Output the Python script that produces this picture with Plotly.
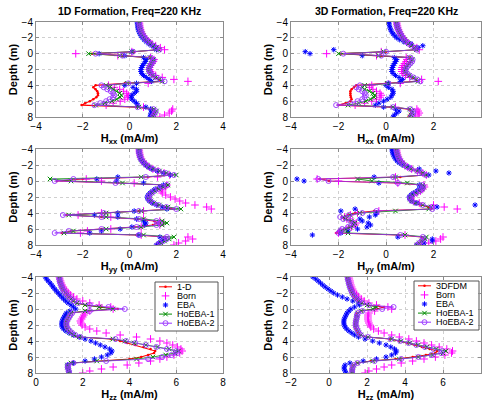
import plotly.graph_objects as go

# ---------------- data ----------------
depth = [-4.0, -3.75, -3.5, -3.25, -3.0, -2.75, -2.5, -2.25, -2.0, -1.75,
         -1.5, -1.25, -1.0, -0.75, -0.5, -0.25, 0.0, 0.25, 0.5, 0.75,
         1.0, 1.25, 1.5, 1.75, 2.0, 2.25, 2.5, 2.75, 3.0, 3.25,
         3.5, 3.75, 4.0, 4.25, 4.5, 4.75, 5.0, 5.25, 5.5, 5.75,
         6.0, 6.25, 6.5, 6.75, 7.0, 7.25, 7.5, 7.75, 8.0]

names_1d = ["1-D", "Born", "EBA", "HoEBA-1", "HoEBA-2"]
names_3d = ["3DFDM", "Born", "EBA", "HoEBA-1", "HoEBA-2"]

# Hxx, 1D formation
hxx1d_ref = [0.38, 0.39, 0.40, 0.42, 0.44, 0.47, 0.51, 0.56, 0.62, 0.69,
             0.78, 0.88, 1.00, 1.12, 1.20, 0.20, -1.60, -0.30, 0.85, 1.00,
             0.98, 0.92, 0.86, 0.82, 0.80, 0.82, 0.88, 0.98, 1.10, 1.25,
             1.35, -0.20, -1.45, -1.55, -1.45, -1.38, -1.35, -1.35, -1.42, -1.55,
             -1.70, -1.90, -2.05, 0.30, 0.95, 1.05, 1.00, 0.95, 0.92]
hxx1d_born = [0.42, 0.43, 0.44, 0.46, 0.48, 0.51, 0.55, 0.60, 0.66, 0.74,
              0.84, 0.96, 1.12, 1.32, 1.50, 0.10, -2.30, -0.50, 0.90, 1.05,
              1.02, 0.96, 0.90, 0.86, 0.86, 0.90, 0.98, 1.12, 1.40, 1.90,
              2.50, 0.80, -0.90, -0.65, -0.42, -0.25, -0.12, -0.05, -0.08, -0.20,
              -0.40, -0.70, -1.00, 0.60, 1.85, 1.80, 1.70, 1.50, 1.30]
hxx1d_eba = [0.33, 0.34, 0.35, 0.36, 0.38, 0.41, 0.45, 0.50, 0.56, 0.63,
             0.72, 0.82, 0.95, 1.08, 1.15, 0.10, -1.30, -0.20, 0.60, 0.72,
             0.68, 0.62, 0.56, 0.52, 0.49, 0.49, 0.52, 0.60, 0.72, 0.85,
             0.95, 0.30, -0.20, 0.15, 0.30, 0.30, 0.20, 0.10, 0.08, 0.10,
             0.20, 0.30, 0.35, 0.70, 0.90, 0.95, 0.92, 0.90, 0.88]
hxx1d_ho1 = [0.40, 0.41, 0.42, 0.44, 0.46, 0.49, 0.53, 0.58, 0.64, 0.71,
             0.80, 0.90, 1.02, 1.15, 1.25, 0.10, -1.75, -0.40, 0.88, 1.02,
             1.00, 0.94, 0.88, 0.84, 0.82, 0.84, 0.90, 1.00, 1.12, 1.28,
             1.40, -0.10, -1.00, -0.85, -0.70, -0.55, -0.42, -0.35, -0.40, -0.55,
             -0.75, -1.05, -1.45, 0.40, 1.05, 1.15, 1.10, 1.05, 1.00]
hxx1d_ho2 = [0.41, 0.42, 0.43, 0.45, 0.47, 0.50, 0.54, 0.59, 0.65, 0.72,
             0.81, 0.91, 1.03, 1.16, 1.28, 0.15, -1.45, -0.30, 0.90, 1.03,
             1.01, 0.95, 0.89, 0.85, 0.83, 0.85, 0.91, 1.01, 1.14, 1.32,
             1.50, -0.05, -1.20, -1.10, -0.95, -0.80, -0.70, -0.65, -0.70, -0.85,
             -1.00, -1.25, -1.50, 0.35, 1.02, 1.12, 1.08, 1.02, 0.98]

# Hxx, 3D formation
hxx3d_ref = [0.42, 0.43, 0.45, 0.47, 0.50, 0.54, 0.58, 0.63, 0.68, 0.75,
             0.82, 0.92, 1.05, 1.18, 1.25, 0.00, -1.90, -0.20, 1.00, 1.08,
             1.05, 0.98, 0.90, 0.82, 0.78, 0.78, 0.85, 0.95, 1.10, 1.25,
             1.30, 0.00, -1.25, -1.35, -1.45, -1.50, -1.50, -1.50, -1.48, -1.45,
             -1.50, -1.70, -2.00, 0.20, 0.95, 1.05, 1.05, 1.00, 0.95]
hxx3d_born = [0.45, 0.46, 0.48, 0.50, 0.53, 0.57, 0.61, 0.66, 0.72, 0.79,
              0.87, 0.98, 1.12, 1.30, 1.40, -0.20, -2.50, -0.40, 0.85, 0.88,
              0.85, 0.78, 0.72, 0.68, 0.66, 0.67, 0.72, 0.82, 1.00, 1.50,
              2.20, 0.60, -0.60, -0.70, -0.55, -0.40, -0.25, -0.20, -0.25, -0.40,
              -0.60, -0.90, -1.30, 0.40, 1.30, 1.35, 1.40, 1.35, 1.25]
hxx3d_eba = [0.12, 0.13, 0.15, 0.17, 0.20, 0.24, 0.30, 0.37, 0.45, 0.58,
             0.75, 1.05, 1.55, 1.35, -2.20, -3.40, -3.20, -1.00, 0.35, 0.45,
             0.40, 0.35, 0.30, 0.27, 0.25, 0.25, 0.30, 0.40, 0.55, 0.70,
             0.60, 0.10, 0.00, 0.10, 0.25, 0.30, 0.30, 0.25, 0.20, 0.05,
             -0.10, -0.30, -0.45, -0.10, 0.40, 0.55, 0.45, 0.35, 0.30]
hxx3d_ho1 = [0.43, 0.44, 0.46, 0.48, 0.51, 0.55, 0.59, 0.64, 0.70, 0.76,
             0.84, 0.94, 1.07, 1.20, 1.28, -0.10, -2.00, -0.30, 1.00, 1.10,
             1.07, 1.00, 0.92, 0.85, 0.80, 0.80, 0.87, 0.98, 1.13, 1.28,
             1.35, 0.05, -0.90, -1.00, -0.90, -0.70, -0.55, -0.48, -0.50, -0.65,
             -0.85, -1.15, -1.60, 0.30, 1.00, 1.10, 1.10, 1.05, 1.00]
hxx3d_ho2 = [0.44, 0.45, 0.47, 0.49, 0.52, 0.56, 0.60, 0.65, 0.71, 0.77,
             0.85, 0.95, 1.08, 1.22, 1.30, 0.00, -1.80, -0.20, 1.02, 1.12,
             1.10, 1.02, 0.94, 0.87, 0.82, 0.82, 0.89, 1.00, 1.15, 1.32,
             1.45, 0.10, -1.10, -1.25, -1.15, -1.00, -0.90, -0.85, -0.90, -1.00,
             -1.20, -1.50, -2.10, 0.30, 1.02, 1.15, 1.15, 1.10, 1.05]

# Hyy, 1D formation
hyy1d_ref = [0.40, 0.40, 0.42, 0.43, 0.45, 0.48, 0.54, 0.61, 0.70, 0.82,
             0.98, 1.22, 1.50, 1.80, 0.80, -2.00, -3.10, -0.50, 1.55, 1.40,
             1.20, 1.05, 0.95, 0.85, 0.80, 0.82, 0.88, 1.00, 1.20, 1.50,
             1.90, 0.40, -1.00, -2.70, -1.20, 0.30, 1.05, 1.20, 1.00, 0.20,
             -1.20, -2.50, -2.90, 0.30, 1.50, 1.55, 1.40, 1.25, 1.15]
hyy1d_born = [0.41, 0.42, 0.43, 0.45, 0.47, 0.51, 0.57, 0.64, 0.73, 0.85,
              1.00, 1.22, 1.48, 1.72, 1.20, -1.85, -1.20, 0.20, 1.60, 1.55,
              1.40, 1.35, 1.40, 1.55, 1.75, 1.95, 2.15, 2.40, 2.80, 3.30,
              3.50, 0.60, -1.20, -2.20, -0.80, 0.60, 1.30, 1.45, 1.30, 0.50,
              -0.80, -1.80, -2.10, 0.50, 2.50, 2.70, 2.40, 2.10, 1.90]
hyy1d_eba = [0.40, 0.40, 0.41, 0.43, 0.45, 0.48, 0.53, 0.60, 0.69, 0.80,
             0.95, 1.18, 1.45, 1.75, -0.50, -1.40, -0.55, 0.60, 1.45, 1.30,
             1.10, 0.98, 0.88, 0.80, 0.76, 0.78, 0.85, 0.97, 1.15, 1.40,
             1.60, 0.20, -0.50, -1.50, -0.50, 0.30, 0.60, 0.70, 0.65, 0.10,
             -0.40, -1.20, -1.70, 0.40, 1.30, 1.50, 1.40, 1.25, 1.15]
hyy1d_ho1 = [0.41, 0.41, 0.43, 0.44, 0.46, 0.49, 0.55, 0.62, 0.72, 0.85,
             1.02, 1.28, 1.58, 2.00, 0.50, -3.40, -2.50, -0.30, 1.65, 1.45,
             1.25, 1.08, 0.97, 0.88, 0.83, 0.85, 0.92, 1.05, 1.28, 1.65,
             2.20, 0.50, -1.00, -2.60, -1.00, 0.60, 1.40, 1.60, 1.40, 0.50,
             -1.00, -2.40, -2.80, 0.60, 1.90, 1.70, 1.50, 1.35, 1.25]
hyy1d_ho2 = [0.41, 0.41, 0.42, 0.44, 0.46, 0.49, 0.55, 0.62, 0.71, 0.83,
             1.00, 1.25, 1.55, 1.90, 0.70, -2.40, -3.20, -0.60, 1.60, 1.42,
             1.22, 1.06, 0.95, 0.86, 0.81, 0.83, 0.90, 1.02, 1.24, 1.58,
             2.00, 0.40, -1.10, -2.85, -1.20, 0.40, 1.15, 1.30, 1.15, 0.30,
             -1.20, -2.60, -3.20, 0.40, 1.60, 1.60, 1.45, 1.30, 1.20]

# Hyy, 3D formation
hyy3d_ref = [0.42, 0.43, 0.45, 0.47, 0.50, 0.54, 0.60, 0.67, 0.75, 0.88,
             1.05, 1.30, 1.50, 1.65, 0.60, -2.80, -2.40, 0.40, 1.50, 1.55,
             1.50, 1.40, 1.25, 1.10, 1.00, 1.00, 1.05, 1.20, 1.45, 1.80,
             1.90, -0.50, -1.30, -1.60, -1.85, -1.75, -1.50, -1.35, -1.40, -1.55,
             -1.75, -2.00, -2.10, 0.50, 1.50, 1.60, 1.50, 1.40, 1.30]
hyy3d_born = [0.44, 0.45, 0.47, 0.49, 0.52, 0.56, 0.62, 0.69, 0.78, 0.91,
              1.08, 1.33, 1.55, 1.70, 0.40, -2.90, -2.00, 0.50, 1.60, 1.62,
              1.55, 1.45, 1.30, 1.15, 1.05, 1.05, 1.15, 1.40, 2.00, 2.45,
              3.00, -0.30, -1.20, -1.50, -1.75, -1.65, -1.40, -1.25, -1.30, -1.45,
              -1.65, -1.90, -2.00, 0.80, 2.40, 2.30, 2.10, 1.80, 1.50]
hyy3d_eba = [0.25, 0.26, 0.28, 0.31, 0.35, 0.40, 0.47, 0.56, 0.70, 0.95,
             1.40, 2.10, 2.65, 1.80, -0.50, -3.75, -3.45, -0.30, 1.40, 1.50,
             1.40, 1.30, 1.15, 1.05, 0.98, 1.00, 1.10, 1.30, 3.75, 2.15,
             -1.30, -1.90, -0.40, -0.45, -0.70, -1.10, -1.00, -0.75, -0.65, -0.80,
             -1.20, -1.60, -1.90, -3.10, 0.50, 1.95, 1.95, 1.60, 1.30]
hyy3d_ho1 = [0.43, 0.44, 0.46, 0.48, 0.51, 0.55, 0.61, 0.68, 0.76, 0.89,
             1.06, 1.32, 1.55, 1.70, 0.40, -1.20, -0.60, 0.90, 1.55, 1.58,
             1.52, 1.42, 1.27, 1.12, 1.02, 1.02, 1.08, 1.25, 1.55, 1.90,
             1.80, 0.40, -1.10, -1.50, -1.80, -1.70, -1.45, -1.30, -1.35, -1.50,
             -1.70, -1.90, -1.60, 0.80, 1.70, 1.65, 1.50, 1.40, 1.30]
hyy3d_ho2 = [0.43, 0.44, 0.46, 0.48, 0.51, 0.55, 0.61, 0.68, 0.76, 0.89,
             1.06, 1.31, 1.52, 1.68, 0.30, -2.85, -2.42, 0.50, 1.52, 1.56,
             1.52, 1.42, 1.27, 1.12, 1.02, 1.02, 1.08, 1.25, 1.55, 1.95,
             1.95, -0.40, -1.00, -1.55, -1.93, -1.80, -1.50, -1.37, -1.42, -1.60,
             -1.85, -1.93, -2.00, 0.60, 1.55, 1.60, 1.50, 1.40, 1.30]

# Hzz, 1D formation
hzz1d_ref = [1.00, 1.00, 1.02, 1.04, 1.07, 1.10, 1.14, 1.19, 1.25, 1.32,
             1.40, 1.50, 1.60, 1.75, 2.10, 2.80, 3.50, 2.20, 1.50, 1.45,
             1.40, 1.35, 1.30, 1.28, 1.28, 1.30, 1.35, 1.42, 1.50, 1.60,
             1.80, 3.20, 3.60, 3.90, 4.25, 4.60, 4.90, 5.10, 5.05, 4.80,
             4.50, 4.00, 2.50, 1.50, 1.35, 1.35, 1.38, 1.40, 1.42]
hzz1d_born = [1.00, 1.02, 1.05, 1.08, 1.12, 1.17, 1.22, 1.29, 1.38, 1.48,
              1.60, 1.75, 2.00, 2.30, 2.70, 3.20, 3.30, 2.30, 2.10, 2.05,
              2.00, 1.95, 1.90, 1.92, 1.97, 2.10, 2.30, 2.60, 3.00, 3.60,
              4.30, 4.90, 5.30, 5.60, 5.85, 6.05, 6.20, 6.25, 6.15, 5.90,
              5.60, 5.30, 4.90, 4.40, 3.90, 3.30, 2.80, 2.30, 2.00]
hzz1d_eba = [0.40, 0.45, 0.52, 0.60, 0.67, 0.73, 0.80, 0.87, 0.95, 1.02,
             1.10, 1.18, 1.27, 1.37, 1.50, 1.60, 1.70, 1.45, 1.30, 1.25,
             1.20, 1.15, 1.12, 1.10, 1.10, 1.12, 1.18, 1.28, 1.42, 1.60,
             1.85, 2.10, 2.35, 2.55, 2.75, 2.95, 3.15, 3.25, 3.20, 3.05,
             2.80, 2.50, 2.10, 1.60, 1.35, 1.35, 1.38, 1.40, 1.42]
hzz1d_ho1 = [1.00, 1.00, 1.02, 1.04, 1.07, 1.10, 1.14, 1.19, 1.25, 1.32,
             1.40, 1.50, 1.60, 1.75, 2.10, 2.70, 3.30, 2.10, 1.50, 1.45,
             1.40, 1.35, 1.30, 1.28, 1.28, 1.30, 1.35, 1.42, 1.50, 1.62,
             1.85, 3.30, 3.80, 4.20, 4.70, 5.20, 5.70, 6.10, 5.95, 5.55,
             5.00, 4.30, 2.60, 1.50, 1.35, 1.35, 1.38, 1.40, 1.42]
hzz1d_ho2 = [1.00, 1.00, 1.02, 1.04, 1.07, 1.10, 1.14, 1.19, 1.25, 1.32,
             1.40, 1.50, 1.62, 1.80, 2.30, 3.10, 3.80, 2.30, 1.55, 1.47,
             1.42, 1.37, 1.32, 1.30, 1.30, 1.32, 1.37, 1.45, 1.55, 1.68,
             1.90, 3.40, 3.85, 4.25, 4.70, 5.15, 5.60, 6.00, 6.05, 5.80,
             5.40, 4.80, 3.00, 1.60, 1.38, 1.36, 1.38, 1.40, 1.42]

# Hzz, 3D formation
hzz3d_ref = [0.95, 0.97, 1.00, 1.02, 1.05, 1.08, 1.12, 1.16, 1.20, 1.27,
             1.35, 1.45, 1.55, 1.70, 2.00, 2.90, 2.50, 1.70, 1.50, 1.45,
             1.45, 1.42, 1.40, 1.38, 1.38, 1.40, 1.45, 1.50, 1.55, 1.65,
             2.00, 3.20, 3.70, 4.10, 4.50, 4.90, 5.30, 5.70, 5.60, 5.10,
             4.40, 3.50, 2.20, 1.50, 1.30, 1.25, 1.20, 1.20, 1.20]
hzz3d_born = [1.05, 1.07, 1.10, 1.12, 1.15, 1.19, 1.24, 1.29, 1.35, 1.45,
              1.55, 1.70, 1.85, 2.10, 2.50, 3.10, 3.30, 2.40, 2.10, 2.05,
              2.05, 2.05, 2.07, 2.10, 2.15, 2.20, 2.35, 2.60, 2.90, 3.30,
              3.70, 4.20, 4.60, 5.00, 5.40, 5.80, 6.20, 6.50, 6.45, 6.10,
              5.60, 5.00, 4.40, 3.80, 3.30, 2.90, 2.50, 2.10, 1.90]
hzz3d_eba = [-0.85, -0.70, -0.57, -0.45, -0.33, -0.20, -0.05, 0.10, 0.25, 0.45,
             0.70, 0.95, 1.25, 1.55, 1.60, 1.35, 1.15, 1.05, 0.95, 0.90,
             0.85, 0.80, 0.78, 0.78, 0.80, 0.85, 0.93, 1.05, 1.20, 1.35,
             1.55, 1.90, 2.30, 2.65, 3.00, 3.25, 3.45, 3.55, 3.50, 3.30,
             3.00, 2.50, 1.80, 1.10, 0.85, 0.80, 0.80, 0.85, 0.90]
hzz3d_ho1 = [0.97, 0.99, 1.02, 1.04, 1.07, 1.10, 1.14, 1.18, 1.22, 1.29,
             1.37, 1.47, 1.57, 1.72, 2.00, 2.50, 2.30, 1.70, 1.52, 1.47,
             1.47, 1.44, 1.42, 1.40, 1.40, 1.42, 1.47, 1.52, 1.57, 1.68,
             2.05, 3.30, 3.80, 4.25, 4.70, 5.15, 5.65, 6.15, 6.00, 5.45,
             4.70, 3.70, 2.30, 1.50, 1.30, 1.25, 1.22, 1.22, 1.22]
hzz3d_ho2 = [0.97, 0.99, 1.02, 1.04, 1.07, 1.10, 1.14, 1.18, 1.22, 1.29,
             1.37, 1.47, 1.58, 1.75, 2.10, 3.40, 2.80, 1.75, 1.52, 1.47,
             1.47, 1.44, 1.42, 1.40, 1.40, 1.42, 1.47, 1.52, 1.57, 1.68,
             2.05, 3.25, 3.75, 4.20, 4.60, 5.05, 5.50, 5.95, 5.90, 5.40,
             4.70, 3.80, 2.40, 1.50, 1.30, 1.25, 1.22, 1.22, 1.22]

x_ticks_pm4 = [-4, -2, 0, 2, 4]
x_ticks_hzz1d = [0, 2, 4, 6, 8]
x_ticks_hzz3d = [-2, 0, 2, 4, 6, 8]
depth_ticks = [-4, -2, 0, 2, 4, 6, 8]

# ---------------- styling / layout ----------------
W, H = 484, 411
FONT = "Liberation Sans, Arial, sans-serif"


def fx(p):
    return p / W


def fy(p):
    return 1 - p / H


COLORS = ["#ff0000", "#ff00ff", "#0000ff", "#008c00", "#9933ff"]
STYLES = [
    dict(mode="lines+markers", line=dict(color=COLORS[0], width=1.1),
         marker=dict(symbol="circle", size=2.5, color=COLORS[0])),
    dict(mode="markers",
         marker=dict(symbol="cross-thin-open", size=5.5, color=COLORS[1],
                     line=dict(color=COLORS[1], width=1))),
    dict(mode="markers",
         marker=dict(symbol="asterisk-open", size=4.5, color=COLORS[2],
                     line=dict(color=COLORS[2], width=1))),
    dict(mode="lines+markers", line=dict(color=COLORS[3], width=0.8),
         marker=dict(symbol="x-thin-open", size=4.5, color=COLORS[3],
                     line=dict(color=COLORS[3], width=1))),
    dict(mode="lines+markers", line=dict(color=COLORS[4], width=0.8),
         marker=dict(symbol="circle-open", size=5, color=COLORS[4],
                     line=dict(color=COLORS[4], width=0.9))),
]

cols = {"L": (36, 223), "R": (291, 481)}
rows = {"T": (22, 117), "M": (149, 245), "B": (277, 373)}

panels = [
    dict(col="L", row="T", series=[hxx1d_ref, hxx1d_born, hxx1d_eba, hxx1d_ho1, hxx1d_ho2],
         names=names_1d, xr=[-4, 4], xt=x_ticks_pm4, xl="H<sub>xx</sub> (mA/m)"),
    dict(col="R", row="T", series=[hxx3d_ref, hxx3d_born, hxx3d_eba, hxx3d_ho1, hxx3d_ho2],
         names=names_3d, xr=[-4, 4], xt=x_ticks_pm4, xl="H<sub>xx</sub> (mA/m)"),
    dict(col="L", row="M", series=[hyy1d_ref, hyy1d_born, hyy1d_eba, hyy1d_ho1, hyy1d_ho2],
         names=names_1d, xr=[-4, 4], xt=x_ticks_pm4, xl="H<sub>yy</sub> (mA/m)"),
    dict(col="R", row="M", series=[hyy3d_ref, hyy3d_born, hyy3d_eba, hyy3d_ho1, hyy3d_ho2],
         names=names_3d, xr=[-4, 4], xt=x_ticks_pm4, xl="H<sub>yy</sub> (mA/m)"),
    dict(col="L", row="B", series=[hzz1d_ref, hzz1d_born, hzz1d_eba, hzz1d_ho1, hzz1d_ho2],
         names=names_1d, xr=[0, 8], xt=x_ticks_hzz1d, xl="H<sub>zz</sub> (mA/m)",
         legend=(155, 282, 218, 331)),
    dict(col="R", row="B", series=[hzz3d_ref, hzz3d_born, hzz3d_eba, hzz3d_ho1, hzz3d_ho2],
         names=names_3d, xr=[-2, 8], xt=x_ticks_hzz3d, xl="H<sub>zz</sub> (mA/m)",
         legend=(414, 281, 479, 330)),
]

fig = go.Figure()
layout = dict(width=W, height=H, autosize=False, template="none",
              margin=dict(l=0, r=0, t=0, b=0),
              paper_bgcolor="white", plot_bgcolor="white",
              showlegend=False, font=dict(family=FONT, color="black", size=10))

axis_common = dict(showline=True, mirror="ticks", linecolor="#8c8c8c", linewidth=1,
                   ticks="inside", ticklen=3, tickcolor="#8c8c8c",
                   showgrid=True, gridcolor="#cfcfcf", griddash="dot", gridwidth=1,
                   zeroline=False, automargin=False,
                   tickfont=dict(family=FONT, size=10, color="black"))

shapes = []
annotations = []
row_gap = 9.1

for i, p in enumerate(panels, start=1):
    xs = "" if i == 1 else str(i)
    c0, c1 = cols[p["col"]]
    r0, r1 = rows[p["row"]]
    xr = p["xr"]
    layout["xaxis" + xs] = dict(axis_common, domain=[fx(c0), fx(c1)], anchor="y" + xs,
                                range=xr, tickvals=p["xt"],
                                title=dict(text="<b>" + p["xl"] + "</b>", standoff=2,
                                           font=dict(family=FONT, size=11)))
    layout["yaxis" + xs] = dict(axis_common, domain=[fy(r1), fy(r0)], anchor="x" + xs,
                                range=[8, -4], tickvals=depth_ticks,
                                title=dict(text="<b>Depth (m)</b>", standoff=1,
                                           font=dict(family=FONT, size=11)))
    for k, (vals, nm) in enumerate(zip(p["series"], p["names"])):
        fig.add_trace(go.Scatter(x=vals, y=depth, name=nm, xaxis="x" + xs, yaxis="y" + xs,
                                 **STYLES[k]))

    # compact legend drawn inside this panel (pixel -> axis units)
    if "legend" in p:
        bx0, by0, bx1, by1 = p["legend"]

        def ax_x(px, c0=c0, c1=c1, xr=xr):
            return xr[0] + (px - c0) / (c1 - c0) * (xr[1] - xr[0])

        def ax_y(py, r0=r0, r1=r1):
            return -4 + (py - r0) / (r1 - r0) * 12

        shapes.append(dict(type="rect", xref="x" + xs, yref="y" + xs,
                           x0=ax_x(bx0), x1=ax_x(bx1), y0=ax_y(by0), y1=ax_y(by1),
                           line=dict(color="#555555", width=1), fillcolor="white",
                           layer="between"))
        for k, nm in enumerate(p["names"]):
            yy = by0 + 4.8 + k * row_gap
            st = STYLES[k]
            if "lines" in st["mode"]:
                shapes.append(dict(type="line", xref="x" + xs, yref="y" + xs,
                                   x0=ax_x(bx0 + 4), x1=ax_x(bx0 + 17),
                                   y0=ax_y(yy), y1=ax_y(yy),
                                   line=dict(color=COLORS[k], width=1), layer="between"))
            fig.add_trace(go.Scatter(x=[ax_x(bx0 + 10.5)], y=[ax_y(yy)], mode="markers",
                                     marker=st["marker"], xaxis="x" + xs, yaxis="y" + xs,
                                     hoverinfo="skip"))
            annotations.append(dict(text=nm, x=fx(bx0 + 21), y=fy(yy), xref="paper",
                                    yref="paper", showarrow=False, xanchor="left",
                                    yanchor="middle", borderpad=0,
                                    font=dict(family=FONT, size=9, color="black")))

# subplot titles
for col, txt in (("L", "1D Formation, Freq=220 KHz"), ("R", "3D Formation, Freq=220 KHz")):
    c0, c1 = cols[col]
    annotations.append(dict(text="<b>" + txt + "</b>", x=fx((c0 + c1) / 2), y=fy(11),
                            xref="paper", yref="paper", showarrow=False,
                            xanchor="center", yanchor="middle",
                            font=dict(family=FONT, size=10.5, color="black")))

layout["shapes"] = shapes
layout["annotations"] = annotations
fig.update_layout(**layout)
fig.write_html("out.html", config={"displayModeBar": False, "staticPlot": True},
               post_script="document.body.style.margin='0px';document.body.style.overflow='hidden';")
